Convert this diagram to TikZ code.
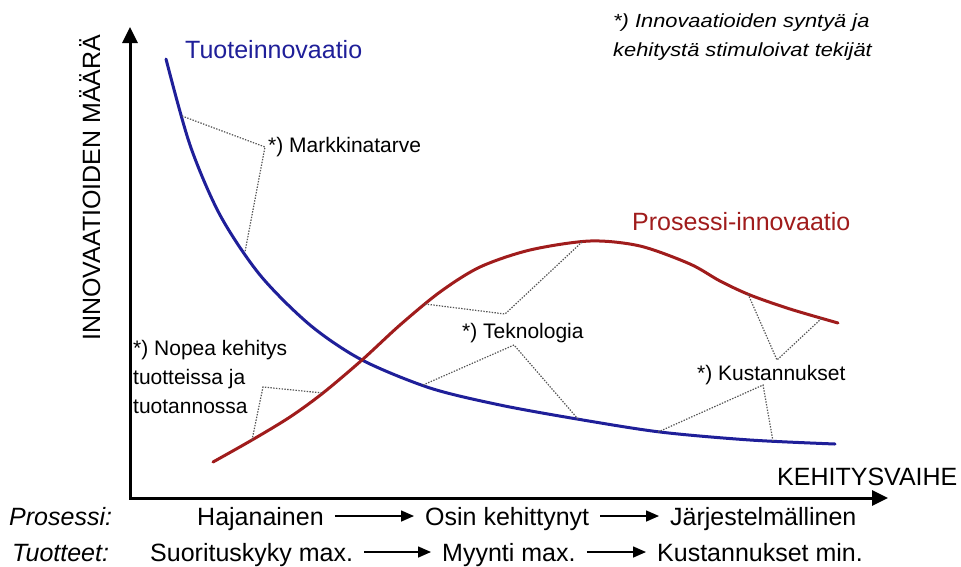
\documentclass[tikz,border=0pt]{standalone}
\usepackage{fontspec}
\setmainfont{Liberation Sans}
\newfontfamily\notefont[FakeStretch=1.15]{Liberation Sans}
\usetikzlibrary{arrows.meta}
\definecolor{tuoteblue}{HTML}{1F1F99}
\definecolor{prosessired}{HTML}{A01C1C}
\definecolor{leadergray}{HTML}{555555}

\begin{document}
\begin{tikzpicture}[x=1pt,y=-1pt,
    axis/.style={line width=3pt, >={Triangle[length=16pt,width=15pt]}, <->},
    curve/.style={line width=3pt, line cap=round},
    leader/.style={leadergray, line width=1.2pt, dash pattern=on 1.4pt off 1.4pt},
    small/.style={inner sep=0pt, font=\fontsize{21}{29}\selectfont},
    big/.style={inner sep=0pt, font=\fontsize{25}{30}\selectfont},
    rowhead/.style={big, font=\fontsize{25}{30}\selectfont\itshape},
    stage/.style={big, inner xsep=11pt, text height=18pt, text depth=0pt},
    flow/.style={line width=1.5pt, -{Triangle[length=13pt,width=11pt]}}]
    \useasboundingbox (0,0) rectangle (961,566);

    % akselit
    \coordinate (O) at (130,498);
    \coordinate (ytip) at (130,27);
    \coordinate (xtip) at (888,498);
    \draw[axis] (ytip) -- (O) -- (xtip);
    \node[big, rotate=90, anchor=base west] (maara) at (100,341) {INNOVAATIOIDEN MÄÄRÄ};
    \node[big, anchor=base west] (kehitys) at (777,485) {KEHITYSVAIHE};

    % kayrat
    \draw[curve, tuoteblue] plot[smooth] coordinates {(166,59) (190,145) (220,215) (260,275) (310,325)
      (362,360) (430,388) (500,405) (577,419) (660,432) (750,440) (835,444)};
    \draw[curve, prosessired] plot[smooth] coordinates {(213,462) (252,440) (290,417) (323,393) (362,360)
      (400,325) (440,292) (480,267) (530,250) (590,241) (640,246) (690,264) (720,281) (750,295)
      (790,309) (838,323)};
    \node[big, tuoteblue, anchor=base west] (tuote) at (185,58) {Tuoteinnovaatio};
    \node[big, prosessired, anchor=base west] (prosessi) at (632,230) {Prosessi-innovaatio};

    % stimuloivat tekijat
    \foreach \name/\x/\y in {m1/182/116, m2/265/147, m3/245/252,
      n1/252/440, n2/263/387, n3/323/393,
      t1/425/304, t2/505/314, t3/582/242, t4/423/385, t5/514/345, t6/578/419,
      k1/748/294, k2/777/360, k3/822/318, k4/658/432, k5/763/385, k6/773/441}
    {
      \coordinate (\name) at (\x,\y);
    }
    \foreach \a/\b/\c in {m1/m2/m3, n1/n2/n3, t1/t2/t3, t4/t5/t6, k1/k2/k3, k4/k5/k6}
    {
      \draw[leader] (\a) -- (\b) -- (\c);
    }
    \node[small, anchor=base west] (markk) at (268,152) {*) Markkinatarve};
    \node[small, align=left, anchor=north west] (nopea) at (133,340) {*) Nopea kehitys\\tuotteissa ja\\tuotannossa};
    \node[small, anchor=base west] (tekno) at (462,338) {*) Teknologia};
    \node[small, anchor=base west] (kustan) at (697,380) {*) Kustannukset};
    \node[inner sep=0pt, align=left, anchor=north west, font=\notefont\itshape\fontsize{19}{29}\selectfont]
      (huom) at (613,14) {*) Innovaatioiden syntyä ja\\kehitystä stimuloivat tekijät};

    % vaiheet
    \node[rowhead, anchor=base west] (prosrow) at (9,525) {Prosessi:};
    \node[rowhead, anchor=base west] (tuotrow) at (12,561) {Tuotteet:};
    \node[stage, anchor=base west] (haja) at (186,525) {Hajanainen};
    \node[stage, anchor=base west] (osin) at (414,525) {Osin kehittynyt};
    \node[stage, anchor=base west] (jarj) at (659,525) {Järjestelmällinen};
    \node[stage, anchor=base west] (suor) at (139,561) {Suorituskyky max.};
    \node[stage, anchor=base west] (myynti) at (431,561) {Myynti max.};
    \node[stage, anchor=base west] (kmin) at (646,561) {Kustannukset min.};
    \draw[flow] (haja) -- (osin);
    \draw[flow] (osin) -- (jarj);
    \draw[flow] (suor) -- (myynti);
    \draw[flow] (myynti) -- (kmin);
\end{tikzpicture}
\end{document}
